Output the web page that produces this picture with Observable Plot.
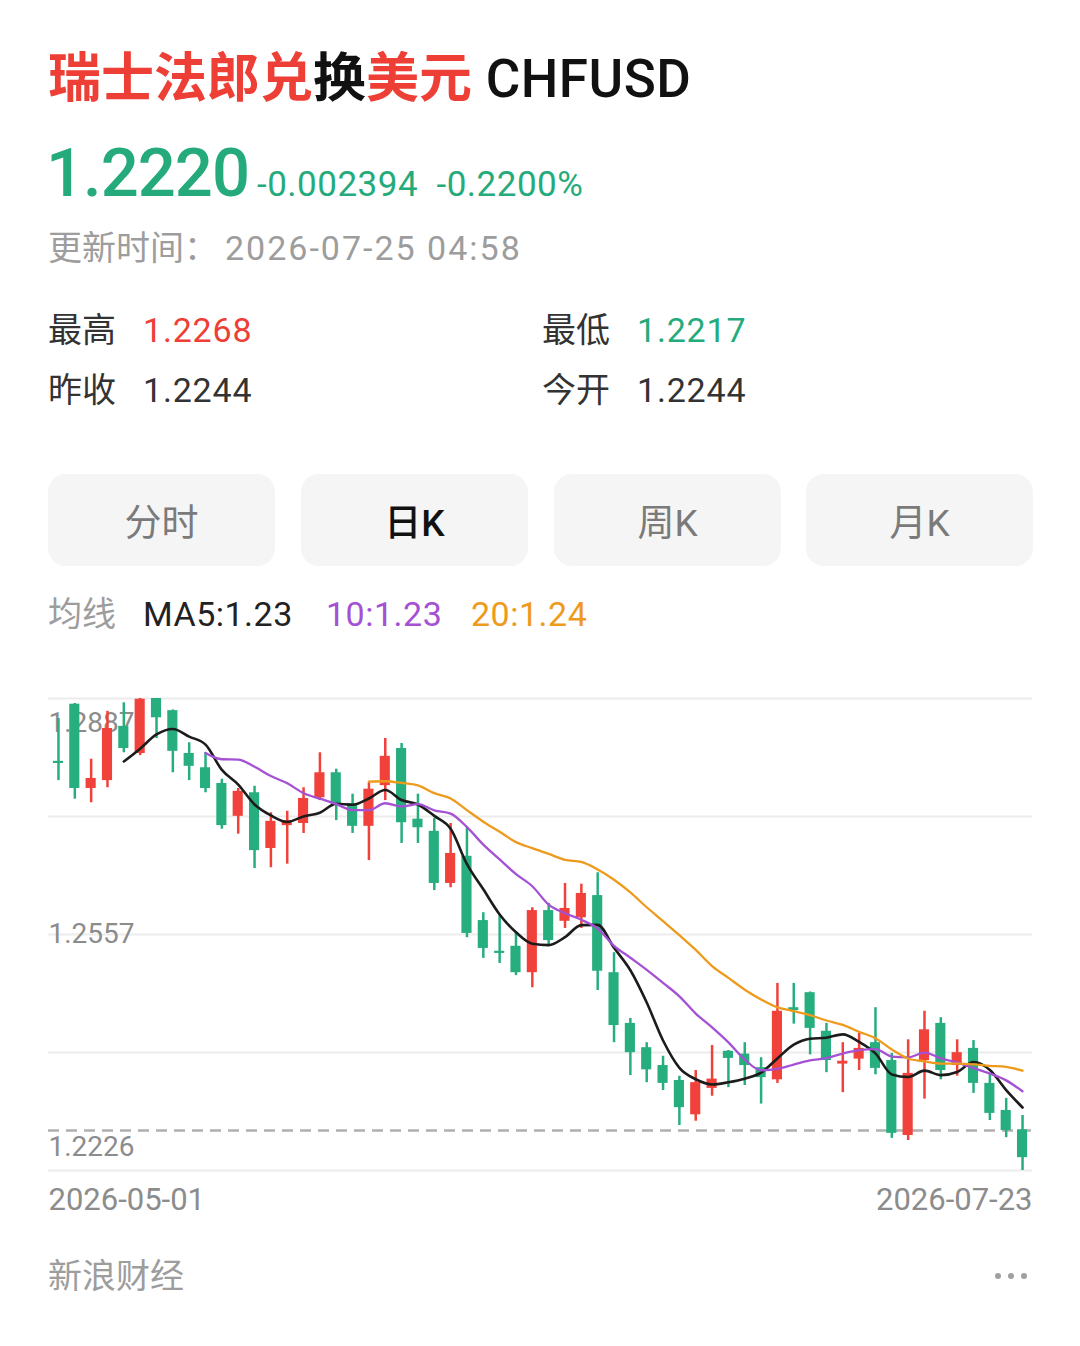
<!DOCTYPE html>
<html>
<head>
<meta charset="utf-8">
<script src="https://cdn.jsdelivr.net/npm/d3@7"></script>
<script src="https://cdn.jsdelivr.net/npm/@observablehq/plot@0.6"></script>
<style>
  html, body { margin:0; padding:0; background:#fff; }
  body { width:1080px; height:1346px; position:relative; overflow:hidden;
         font-family: Roboto, "Noto Sans CJK SC", "Noto Sans", sans-serif; }
  .abs { position:absolute; white-space:nowrap; }
  .red { color:#ee3f37; }
  .green { color:#25ab7b; }
  .btn { position:absolute; top:474px; height:92px; width:227px; border-radius:18px;
         background:#f5f5f5; display:flex; align-items:center; justify-content:center;
         font-size:37px; color:#7a7a7a; }
  #chart { position:absolute; left:0; top:680px; }
  .dot { position:absolute; top:1273px; width:6px; height:6px; border-radius:3px; background:#a0a0a0; }
</style>
</head>
<body>
<div class="abs" style="left:48px;top:48px;font-size:53px;font-weight:700;line-height:62px;">
  <span class="red">瑞士法郎兑</span><span style="color:#111">换</span><span class="red">美元</span><span style="color:#111;font-weight:500;letter-spacing:0.5px"> CHFUSD</span>
</div>
<div class="abs green" style="left:46px;top:138px;line-height:70px;">
  <span style="font-size:67px;font-weight:500;letter-spacing:-1px">1.2220</span><span style="font-size:35px;margin-left:8px;letter-spacing:0.5px">-0.002394&nbsp;&nbsp;-0.2200%</span>
</div>
<div class="abs" style="left:48px;top:228px;font-size:34px;line-height:40px;color:#9d9d9d">更新时间：</div>
<div class="abs" style="left:225px;top:228px;font-size:34px;line-height:40px;color:#9d9d9d;letter-spacing:2px">2026-07-25 04:58</div>

<div class="abs" style="left:48px;top:310px;font-size:34px;line-height:40px;color:#333">最高</div>
<div class="abs red" style="left:143px;top:310px;font-size:34px;line-height:40px;letter-spacing:0.8px">1.2268</div>
<div class="abs" style="left:542px;top:310px;font-size:34px;line-height:40px;color:#333">最低</div>
<div class="abs green" style="left:637px;top:310px;font-size:34px;line-height:40px;letter-spacing:0.8px">1.2217</div>
<div class="abs" style="left:48px;top:370px;font-size:34px;line-height:40px;color:#333">昨收</div>
<div class="abs" style="left:143px;top:370px;font-size:34px;line-height:40px;color:#333;letter-spacing:0.8px">1.2244</div>
<div class="abs" style="left:542px;top:370px;font-size:34px;line-height:40px;color:#333">今开</div>
<div class="abs" style="left:637px;top:370px;font-size:34px;line-height:40px;color:#333;letter-spacing:0.8px">1.2244</div>

<div class="btn" style="left:48px">分时</div>
<div class="btn" style="left:301px;color:#111;font-weight:500">日K</div>
<div class="btn" style="left:554px">周K</div>
<div class="btn" style="left:806px">月K</div>

<div class="abs" style="left:48px;top:594px;font-size:34px;line-height:40px;color:#9d9d9d">均线</div>
<div class="abs" style="left:143px;top:594px;font-size:34px;line-height:40px;color:#222;letter-spacing:0.5px">MA5:1.23</div>
<div class="abs" style="left:326px;top:594px;font-size:34px;line-height:40px;color:#a451d4;letter-spacing:0.5px">10:1.23</div>
<div class="abs" style="left:471px;top:594px;font-size:34px;line-height:40px;color:#ee9a1c;letter-spacing:0.5px">20:1.24</div>

<div id="chart"></div>

<div class="abs" style="left:48px;top:1256px;font-size:34px;line-height:40px;color:#9d9d9d">新浪财经</div>
<div class="dot" style="left:995px"></div>
<div class="dot" style="left:1008px"></div>
<div class="dot" style="left:1021px"></div>

<script>
const dates = [
  "2026-05-01","2026-05-04","2026-05-05","2026-05-06","2026-05-07","2026-05-08",
  "2026-05-11","2026-05-12","2026-05-13","2026-05-14","2026-05-15",
  "2026-05-18","2026-05-19","2026-05-20","2026-05-21","2026-05-22",
  "2026-05-25","2026-05-26","2026-05-27","2026-05-28","2026-05-29",
  "2026-06-01","2026-06-02","2026-06-03","2026-06-04","2026-06-05",
  "2026-06-08","2026-06-09","2026-06-10","2026-06-11","2026-06-12",
  "2026-06-15","2026-06-16","2026-06-17","2026-06-18","2026-06-19",
  "2026-06-22","2026-06-23","2026-06-24","2026-06-25","2026-06-26",
  "2026-06-29","2026-06-30","2026-07-01","2026-07-02","2026-07-03",
  "2026-07-06","2026-07-07","2026-07-08","2026-07-09","2026-07-10",
  "2026-07-13","2026-07-14","2026-07-15","2026-07-16","2026-07-17",
  "2026-07-20","2026-07-21","2026-07-22","2026-07-23"
];
const opens = [
  1.2799,1.2879,1.2761,1.2772,1.2848,1.2810,1.2887,1.2870,1.2810,1.2790,
  1.2768,1.2722,1.2755,1.2677,1.2709,1.2712,1.2748,1.2783,1.2740,1.2708,
  1.2765,1.2817,1.2718,1.2701,1.2628,1.2666,1.2576,1.2533,1.2540,1.2503,
  1.2590,1.2575,1.2580,1.2611,1.2503,1.2432,1.2398,1.2373,1.2352,1.2304,
  1.2341,1.2393,1.2389,1.2370,1.2353,1.2454,1.2475,1.2421,1.2375,1.2382,
  1.2405,1.2380,1.2275,1.2380,1.2432,1.2373,1.2397,1.2348,1.2310,1.2283
];
const highs = [
  1.2859,1.2880,1.2802,1.2869,1.2881,1.2887,1.2887,1.2871,1.2825,1.2811,
  1.2774,1.2761,1.2764,1.2727,1.2729,1.2762,1.2811,1.2788,1.2753,1.2769,
  1.2831,1.2824,1.2753,1.2719,1.2712,1.2706,1.2587,1.2583,1.2558,1.2594,
  1.2600,1.2628,1.2627,1.2643,1.2531,1.2439,1.2405,1.2386,1.2358,1.2366,
  1.2401,1.2394,1.2405,1.2384,1.2488,1.2488,1.2476,1.2432,1.2405,1.2418,
  1.2454,1.2390,1.2409,1.2449,1.2440,1.2409,1.2408,1.2362,1.2327,1.2303
];
const lows = [
  1.2772,1.2746,1.2741,1.2762,1.2811,1.2807,1.2831,1.2783,1.2772,1.2755,
  1.2704,1.2697,1.2649,1.2650,1.2655,1.2698,1.2744,1.2716,1.2698,1.2660,
  1.2744,1.2684,1.2684,1.2618,1.2622,1.2552,1.2523,1.2516,1.2499,1.2482,
  1.2541,1.2565,1.2565,1.2478,1.2405,1.2359,1.2349,1.2338,1.2289,1.2295,
  1.2330,1.2342,1.2345,1.2319,1.2348,1.2431,1.2388,1.2363,1.2335,1.2366,
  1.2360,1.2271,1.2268,1.2326,1.2353,1.2358,1.2334,1.2296,1.2272,1.2226
];
const closes = [
  1.2796,1.2761,1.2775,1.2845,1.2817,1.2886,1.2860,1.2813,1.2792,1.2761,
  1.2709,1.2757,1.2674,1.2715,1.2716,1.2747,1.2783,1.2737,1.2708,1.2760,
  1.2806,1.2713,1.2706,1.2628,1.2670,1.2558,1.2537,1.2530,1.2503,1.2590,
  1.2548,1.2593,1.2614,1.2505,1.2429,1.2391,1.2367,1.2348,1.2314,1.2349,
  1.2354,1.2383,1.2373,1.2356,1.2449,1.2450,1.2425,1.2380,1.2379,1.2397,
  1.2369,1.2278,1.2362,1.2423,1.2366,1.2391,1.2348,1.2306,1.2282,1.2244
];
const yLabelTop = [1.2887];
const yLabelMid = [1.2557];
const yLabelBottom = [1.2226];
const gridTicks = [1.2226, 1.23913, 1.25565, 1.27218, 1.2887];
const refLine = [1.2282];
const xLabelFirst = [dates[0]];
const xLabelLast = [dates[dates.length - 1]];
const maSpecs = [
  {k: 5, color: "#1c1c1c", width: 2.6},
  {k: 10, color: "#a451d4", width: 2.3},
  {k: 20, color: "#ee9a1c", width: 2.3}
];

const UP = "#f0413a", DOWN = "#27ae7e";
const data = dates.map((d, i) => ({date: d, open: opens[i], high: highs[i], low: lows[i], close: closes[i]}));
const col = d => d.close > d.open ? UP : DOWN;
const fmt = d => d.toFixed(4);
const labelStyle = {fill: "#8c8c8c", fontSize: 28, fontFamily: "Roboto, sans-serif", frameAnchor: "left", textAnchor: "start"};
const dateStyle = {fill: "#8c8c8c", fontSize: 31, fontFamily: "Roboto, sans-serif", lineAnchor: "top", dy: 17, letterSpacing: 0.6};

const chart = Plot.plot({
  width: 1080,
  height: 540,
  marginTop: 18,
  marginBottom: 50,
  marginLeft: 48,
  marginRight: 48,
  style: {background: "transparent", overflow: "visible"},
  x: {type: "band", domain: dates, paddingInner: 0.38, paddingOuter: 0.3, round: false, axis: null},
  y: {domain: [1.2226, 1.2887], axis: null},
  color: {type: "identity"},
  marks: [
    Plot.gridY(gridTicks, {stroke: "#ececec", strokeOpacity: 1, strokeWidth: 2}),
    Plot.ruleY(refLine, {stroke: "#b0b0b0", strokeWidth: 2.5, strokeDasharray: "11,7"}),
    Plot.text(yLabelTop, {...labelStyle, y: d => d, text: fmt, lineAnchor: "top", dy: 14}),
    Plot.text(yLabelMid, {...labelStyle, y: d => d, text: fmt, lineAnchor: "middle"}),
    Plot.text(yLabelBottom, {...labelStyle, y: d => d, text: fmt, lineAnchor: "bottom", dy: -15}),
    Plot.ruleX(data, {x: "date", y1: "low", y2: "high", stroke: col, strokeWidth: 2.5}),
    Plot.barY(data, {x: "date", y1: "open", y2: "close", fill: col}),
    ...maSpecs.map(s => Plot.lineY(data, Plot.windowY(
      {k: s.k, anchor: "end", strict: true, reduce: "mean"},
      {x: "date", y: "close", stroke: s.color, strokeWidth: s.width, curve: "monotone-x"}
    ))),
    Plot.text(xLabelFirst, {...dateStyle, text: d => d, frameAnchor: "bottom-left", textAnchor: "start"}),
    Plot.text(xLabelLast, {...dateStyle, text: d => d, frameAnchor: "bottom-right", textAnchor: "end"})
  ]
});
document.getElementById("chart").appendChild(chart);
</script>
</body>
</html>
